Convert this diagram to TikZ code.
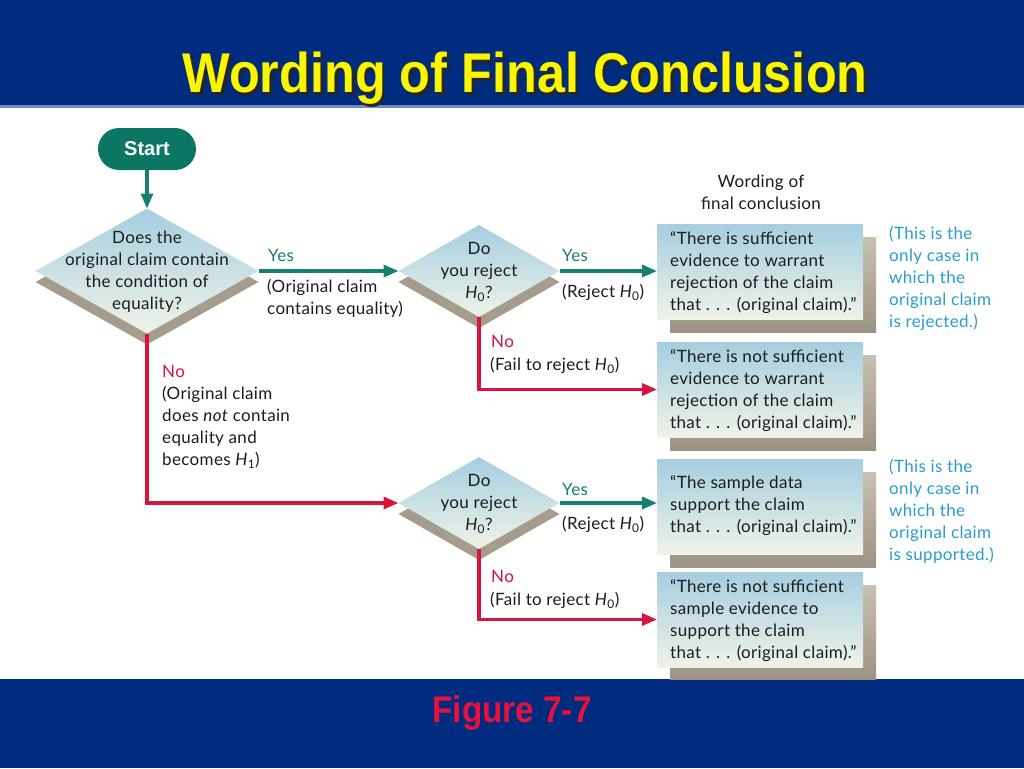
\documentclass[tikz,border=0pt]{standalone}
\usepackage{fontspec}
\setmainfont{Lato}[LetterSpace=2]
\newfontfamily\headfont{Liberation Sans}
\usetikzlibrary{shapes.geometric,arrows.meta,calc}
\definecolor{bandblue}{RGB}{0,44,128}
\definecolor{bandline}{RGB}{110,140,190}
\definecolor{titleyellow}{RGB}{250,245,0}
\definecolor{figred}{RGB}{232,16,60}
\definecolor{startteal}{RGB}{12,118,100}
\definecolor{yesteal}{RGB}{22,128,112}
\definecolor{nored}{RGB}{214,20,62}
\definecolor{boxtop}{RGB}{166,206,224}
\definecolor{boxbot}{RGB}{239,243,232}
\definecolor{shadetop}{RGB}{200,192,176}
\definecolor{shadebot}{RGB}{156,147,132}
\definecolor{diashadow}{RGB}{166,156,140}
\definecolor{anncyan}{RGB}{40,158,206}
\definecolor{inktext}{RGB}{28,28,28}
\newcommand{\Hsub}[1]{\textit{H}\textsubscript{#1}}
\newcommand{\shadowtext}[2]{\makebox[0pt][l]{\hspace{3pt}\raisebox{-3pt}{\color{#1}#2}}#2}
\begin{document}
\begin{tikzpicture}[x=1pt,y=-1pt,
  txt/.style={font=\fontsize{17}{22}\selectfont, text=inktext, inner sep=0pt, align=left, anchor=north west},
  dia/.style={diamond, inner sep=0pt, outer sep=0pt, draw=none, top color=boxtop, bottom color=boxbot},
  diash/.style={diamond, inner sep=0pt, outer sep=0pt, draw=none, fill=diashadow},
  boxstyle/.style={rectangle, inner sep=0pt, outer sep=0pt, minimum width=206pt, minimum height=95pt, top color=boxtop, bottom color=boxbot},
  boxsh/.style={rectangle, inner sep=0pt, outer sep=0pt, minimum width=206pt, minimum height=95pt, top color=shadetop, bottom color=shadebot},
  yesline/.style={draw=yesteal, line width=3.2pt, -{Triangle[length=15pt,width=12pt]}},
  noline/.style={draw=nored, line width=3.2pt, -{Triangle[length=15pt,width=12pt]}},
  yeslab/.style={txt, text=yesteal},
  nolab/.style={txt, text=nored},
  annlab/.style={txt, text=anncyan},
]
\useasboundingbox (0,0) rectangle (1024,768);
% bands
\fill[white] (0,0) rectangle (1024,768);
\fill[bandblue] (0,0) rectangle (1024,106);
\fill[bandline] (0,105) rectangle (1024,107.5);
\fill[bandblue] (0,679) rectangle (1024,768);
% title
\node[anchor=base, text=titleyellow, font=\headfont\bfseries\fontsize{56}{60}\selectfont] (title) at (525,92) {\scalebox{0.9}[1]{\shadowtext{black!85}{Wording of Final Conclusion}}};
\node[anchor=base, text=figred, font=\headfont\bfseries\fontsize{37}{40}\selectfont] (fig) at (512,722) {\scalebox{0.9}[1]{Figure 7-7}};

% start
\node[rectangle, rounded corners=21pt, minimum width=98pt, minimum height=42pt, fill=startteal, text=white, font=\headfont\bfseries\fontsize{20}{24}\selectfont] (start) at (147,149) {Start};

% diamond shadows
\node[diash, minimum width=223pt, minimum height=125pt] (d1s) at (147,282) {};
\node[diash, minimum width=161pt, minimum height=92pt] (d2s) at (479,282) {};
\node[diash, minimum width=161pt, minimum height=92pt] (d3s) at (479,514) {};
% diamonds
\node[dia, minimum width=223pt, minimum height=125pt] (d1) at (147,271) {};
\node[dia, minimum width=161pt, minimum height=92pt] (d2) at (479,271) {};
\node[dia, minimum width=161pt, minimum height=92pt] (d3) at (479,503) {};
\node[txt, anchor=center, align=center] (d1t) at (147,272) {Does the\\original claim contain\\the condition of\\equality?};
\node[txt, anchor=center, align=center] (d2t) at (479,272) {Do\\you reject\\\Hsub{0}?};
\node[txt, anchor=center, align=center] (d3t) at (479,504) {Do\\you reject\\\Hsub{0}?};

% box shadows
\node[boxsh] (b1s) at (773,284.5) {};
\node[boxsh] (b2s) at (773,402.5) {};
\node[boxsh] (b3s) at (773,519.5) {};
\begin{scope}
\clip (0,0) rectangle (1024,679);
\node[boxsh] (b4s) at (773,632.5) {};
\end{scope}
% boxes
\node[boxstyle] (b1) at (760,271.5) {};
\node[boxstyle] (b2) at (760,389.5) {};
\node[boxstyle] (b3) at (760,506.5) {};
\node[boxstyle] (b4) at (760,619.5) {};
\node[txt] (b1t) at (670,229) {\strut``There is sufficient\\evidence to warrant\\rejection of the claim\\that . . . (original claim).''};
\node[txt] (b2t) at (670,347) {\strut``There is not sufficient\\evidence to warrant\\rejection of the claim\\that . . . (original claim).''};
\node[txt] (b3t) at (670,473) {\strut``The sample data\\support the claim\\that . . . (original claim).''};
\node[txt] (b4t) at (670,577) {\strut``There is not sufficient\\sample evidence to\\support the claim\\that . . . (original claim).''};

% header & annotations
\node[txt, anchor=north, align=center] (head) at (761,172) {\strut Wording of\\final conclusion};
\node[annlab] (ann1) at (889,224) {\strut(This is the\\only case in\\which the\\original claim\\is rejected.)};
\node[annlab] (ann2) at (889,457) {\strut(This is the\\only case in\\which the\\original claim\\is supported.)};

% connectors
\draw[yesline] (start.south) -- (d1.north);
\draw[yesline] (d1.east) -- (d2.west);
\draw[yesline] (d2.east) -- (b1.west |- d2.east);
\draw[noline] (d2.south) |- (b2.west);
\draw[noline] (d1.south) |- (d3.west);
\draw[yesline] (d3.east) -- (b3.west |- d3.east);
\draw[noline] (d3.south) |- (b4.west);

% labels
\node[yeslab] (yes1) at (268,246) {\strut Yes};
\node[txt] (orig1) at (267,277) {\strut(Original claim\\contains equality)};
\node[yeslab] (yes2) at (562,246) {\strut Yes};
\node[txt] (rej2) at (562,282) {\strut(Reject \Hsub{0})};
\node[nolab] (no2) at (491,332) {\strut No};
\node[txt] (fail2) at (490,355) {\strut(Fail to reject \Hsub{0})};
\node[nolab] (no1) at (162,362) {\strut No};
\node[txt] (orig2) at (162,384) {\strut(Original claim\\does \textit{not} contain\\equality and\\becomes \Hsub{1})};
\node[yeslab] (yes3) at (562,480) {\strut Yes};
\node[txt] (rej3) at (562,514) {\strut(Reject \Hsub{0})};
\node[nolab] (no3) at (491,567) {\strut No};
\node[txt] (fail3) at (490,590) {\strut(Fail to reject \Hsub{0})};
\end{tikzpicture}
\end{document}
